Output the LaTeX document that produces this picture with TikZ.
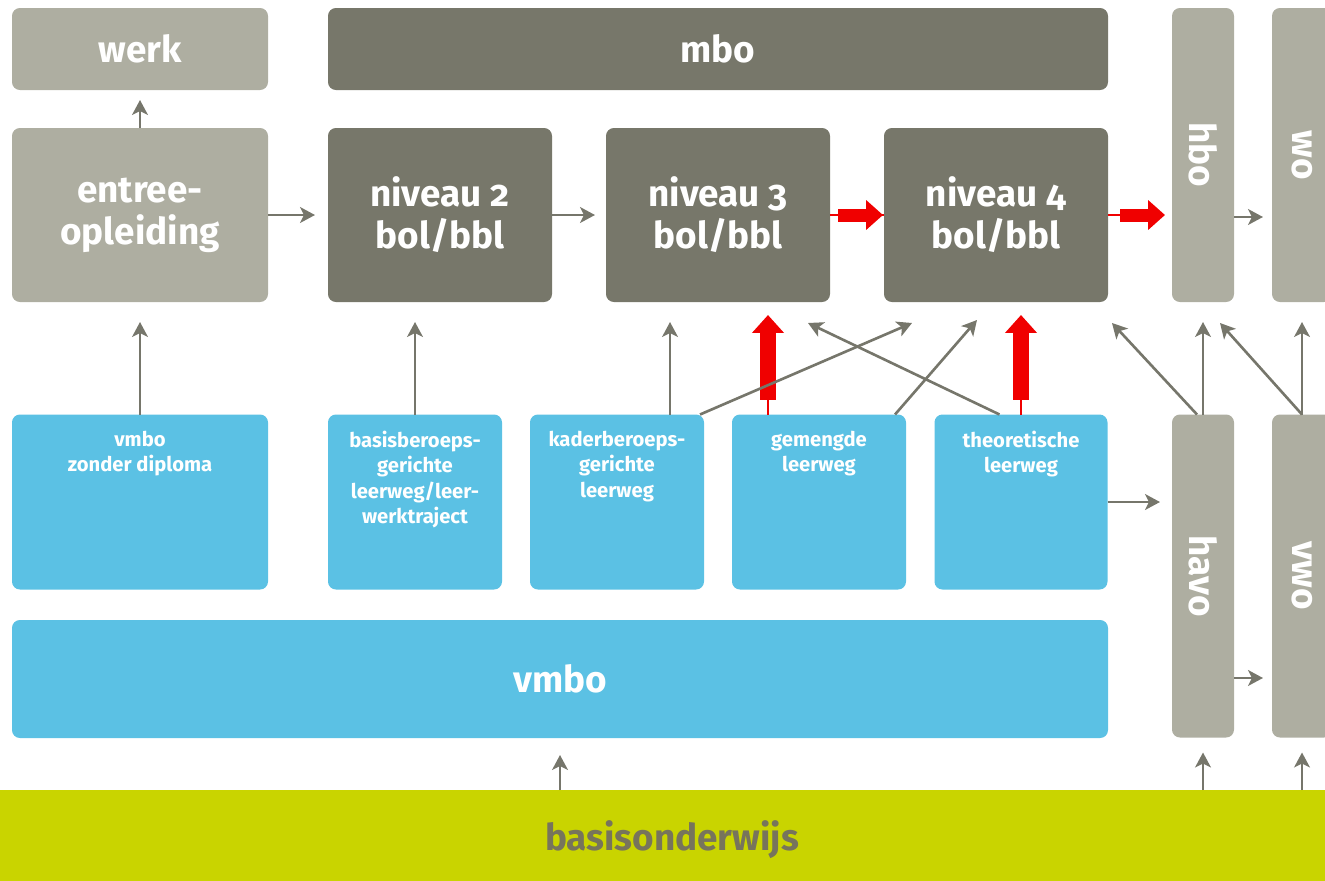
\documentclass[tikz,border=0pt]{standalone}
\usepackage{fontspec}
\setmainfont{Fira Sans}[Numbers=OldStyle]
\usetikzlibrary{arrows.meta,positioning}
\definecolor{donker}{HTML}{77776A}
\definecolor{licht}{HTML}{AEAEA1}
\definecolor{blauw}{HTML}{5BC1E4}
\definecolor{geel}{HTML}{C9D400}
\definecolor{pijl}{HTML}{76766B}
\definecolor{rood}{HTML}{F00000}
\definecolor{olijf}{HTML}{77745C}
\begin{document}
\begin{tikzpicture}[x=0.02cm,y=-0.02cm,
  sz/.style 2 args={minimum width=#1*0.02cm,minimum height=#2*0.02cm},
  blok/.style={rounded corners=4.5pt,inner sep=0pt,outer sep=0pt,text=white,align=center,
    font=\fontsize{21}{24}\selectfont\bfseries},
  dblok/.style={blok,fill=donker},
  lblok/.style={blok,fill=licht},
  bblok/.style={blok,fill=blauw},
  btxt/.style={text=white,align=center,anchor=north,inner sep=0pt,
    font=\fontsize{11.5}{14.5}\selectfont\bfseries},
  vtxt/.style={text=white,rotate=-90,inner sep=0pt,font=\fontsize{21}{24}\selectfont\bfseries},
  gpijl/.style={draw=pijl,line width=1.5pt,-{Stealth[length=8.5pt,width=9pt,inset=2.2pt]}},
  hrood/.style={draw=rood,line width=7.4pt,-{Triangle[length=9.6pt,width=16.4pt]}},
  vrood/.style={draw=rood,line width=9.6pt,-{Triangle[length=10.2pt,width=17.6pt]}},
  dunrood/.style={draw=rood,line width=1.2pt}]
\useasboundingbox (0,0) rectangle (1325,880);
% bovenste rij
\node[lblok,sz={256}{82}] (werk) at (140,49) {werk};
\node[dblok,sz={780}{82}] (mbo) at (718,49) {mbo};
\node[lblok,sz={256}{174}] (entree) at (140,215) {entree-\\opleiding};
\node[dblok,sz={224}{174}] (niv2) at (440,215) {niveau 2\\bol/bbl};
\node[dblok,sz={224}{174}] (niv3) at (718,215) {niveau 3\\bol/bbl};
\node[dblok,sz={224}{174}] (niv4) at (996,215) {niveau 4\\bol/bbl};
\node[lblok,sz={62}{294}] (hbo) at (1203,155) {};
\node[vtxt] (hbotxt) at (hbo.center) {hbo};
\node[lblok,sz={60}{294}] (wo) at (1302,155) {};
\node[vtxt] (wotxt) at (wo.center) {wo};
% vmbo leerwegen
\node[bblok,sz={256}{175}] (vzd) at (140,502) {};
\node[btxt] (vzdtxt) at ([yshift=-0.32cm]vzd.north) {vmbo\\zonder diploma};
\node[bblok,sz={174}{175}] (bas) at (415,502) {};
\node[btxt] (bastxt) at ([yshift=-0.32cm]bas.north) {basisberoeps-\\gerichte\\leerweg/leer-\\werktraject};
\node[bblok,sz={174}{175}] (kader) at (617,502) {};
\node[btxt] (kadertxt) at ([yshift=-0.32cm]kader.north) {kaderberoeps-\\gerichte\\leerweg};
\node[bblok,sz={174}{175}] (gem) at (819,502) {};
\node[btxt] (gemtxt) at ([yshift=-0.32cm]gem.north) {gemengde\\leerweg};
\node[bblok,sz={173}{175}] (theo) at (1021,502) {};
\node[btxt] (theotxt) at ([yshift=-0.32cm]theo.north) {theoretische\\leerweg};
\node[bblok,sz={1096}{118}] (vmbo) at (560,679) {vmbo};
\node[lblok,sz={62}{323}] (havo) at (1203,576) {};
\node[vtxt] (havotxt) at (havo.center) {havo};
\node[lblok,sz={60}{323}] (vwo) at (1302,576) {};
\node[vtxt] (vwotxt) at (vwo.center) {vwo};
\node[blok,fill=geel,text=olijf,sz={1364}{100},rounded corners=0pt] (basis) at (672,840) {basisonderwijs};
% pijlen
\draw[gpijl,shorten >=0.2cm] (entree.north) -- (werk.south);
\draw[gpijl,shorten >=0.26cm] (entree.east) -- (niv2.west);
\draw[gpijl,shorten >=0.22cm] (niv2.east) -- (niv3.west);
\draw[dunrood] (niv3.east) -- (niv4.west);
\draw[hrood,shorten <=0.16cm,shorten >=0.02cm] (niv3.east) -- (niv4.west);
\draw[dunrood] (niv4.east) -- ([xshift=-1cm]hbo.west |- niv4.east);
\draw[hrood,shorten <=0.24cm,shorten >=0.14cm] (niv4.east) -- (hbo.west |- niv4.east);
\draw[gpijl,shorten >=0.18cm] ([yshift=-1.24cm]hbo.east) -- ([yshift=-1.24cm]wo.west);
\draw[gpijl,shorten >=0.4cm] (vzd.north) -- (entree.south);
\draw[gpijl,shorten >=0.4cm] (bas.north) -- (bas.north |- niv2.south);
\draw[gpijl,shorten >=0.4cm] ([xshift=-0.68cm]kader.north east) -- ([xshift=-0.68cm]kader.north east |- niv3.south);
\draw[dunrood,shorten >=0.6cm] ([xshift=0.72cm]gem.north west) -- ([xshift=0.72cm]gem.north west |- niv3.south);
\draw[vrood,shorten <=0.3cm,shorten >=0.26cm] ([xshift=0.72cm]gem.north west) -- ([xshift=0.72cm]gem.north west |- niv3.south);
\draw[dunrood,shorten >=0.6cm] (theo.north) -- (theo.north |- niv4.south);
\draw[vrood,shorten <=0.3cm,shorten >=0.26cm] (theo.north) -- (theo.north |- niv4.south);
\draw[gpijl] ([xshift=-0.08cm]kader.north east) -- ([xshift=0.56cm,yshift=-0.42cm]niv4.south west);
\draw[gpijl] ([xshift=-0.22cm]gem.north east) -- ([xshift=1.86cm,yshift=-0.36cm]niv4.south west);
\draw[gpijl] ([xshift=1.3cm]theo.north west) -- ([xshift=-0.44cm,yshift=-0.42cm]niv3.south east);
\draw[gpijl] ([xshift=-0.12cm]havo.north) -- ([xshift=0.08cm,yshift=-0.42cm]niv4.south east);
\draw[gpijl,shorten >=0.4cm] (havo.north) -- (hbo.south);
\draw[gpijl] (vwo.north) -- ([xshift=0.34cm,yshift=-0.42cm]hbo.south);
\draw[gpijl,shorten >=0.4cm] (vwo.north) -- (wo.south);
\draw[gpijl,shorten >=0.24cm] (theo.east) -- (havo.west |- theo.east);
\draw[gpijl,shorten >=0.18cm] ([yshift=-2.04cm]havo.east) -- ([yshift=-2.04cm]vwo.west);
\draw[gpijl,shorten >=0.34cm] (vmbo.south |- basis.north) -- (vmbo.south);
\draw[gpijl,shorten >=0.3cm] (havo.south |- basis.north) -- (havo.south);
\draw[gpijl,shorten >=0.3cm] (vwo.south |- basis.north) -- (vwo.south);
\end{tikzpicture}
\end{document}
